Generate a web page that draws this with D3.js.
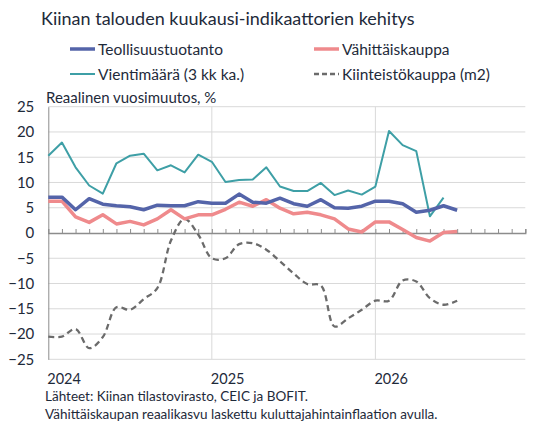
<!DOCTYPE html>
<html>
<head>
<meta charset="utf-8">
<script src="https://cdn.jsdelivr.net/npm/d3@7"></script>
<style>
	body { margin: 0; background: #fff; }
	text { font-family: Lato, "Open Sans", sans-serif; fill: #1e2a3a; }
</style>
</head>
<body>
<div class="view-container"></div>
<script>
'use strict';

// monthly data, Jan 2024 onwards
var years = ['2024', '2025', '2026'];
var industrial = [7.1, 7.1, 4.6, 6.8, 5.7, 5.4, 5.2, 4.6, 5.5, 5.4, 5.4, 6.2,
	5.9, 5.9, 7.7, 6.1, 5.9, 6.9, 5.8, 5.3, 6.6, 5.0, 4.9, 5.3,
	6.3, 6.3, 5.8, 4.1, 4.5, 5.4, 4.5];
var retail = [6.3, 6.3, 3.2, 2.1, 3.6, 1.8, 2.3, 1.6, 2.8, 4.6, 2.8, 3.6,
	3.6, 4.7, 6.1, 5.3, 6.6, 4.9, 3.8, 4.1, 3.6, 2.8, 0.8, 0.2,
	2.2, 2.2, 0.7, -0.9, -1.6, 0.1, 0.3];
var exports3m = [15.3, 17.9, 13.0, 9.4, 7.8, 13.8, 15.3, 15.7, 12.4, 13.4, 12.0, 15.5,
	14.1, 10.1, 10.5, 10.6, 13.0, 9.2, 8.3, 8.3, 9.9, 7.5, 8.4, 7.6,
	9.2, 20.2, 17.4, 16.2, 3.3, 7.0];
var realEstate = [-20.5, -20.5, -19.0, -22.8, -20.6, -14.7, -15.2, -13.1, -10.9, -1.5, 2.8, -0.3,
	-5.0, -5.0, -2.2, -2.0, -3.3, -5.6, -8.0, -10.1, -10.4, -18.5, -16.9, -15.2,
	-13.4, -13.4, -9.4, -9.6, -12.9, -14.2, -13.4];
var yTicks = [-25, -20, -15, -10, -5, 0, 5, 10, 15, 20, 25];

var WIDTH = 536, HEIGHT = 427;
var BLUE = '#5464a9', PINK = '#ef8a8c', TEAL = '#3e9fa6', GRAY = '#6b6b6b';
var GRID = '#d9d9d9';

var svg = d3.select('.view-container').append('svg')
	.attr('width', WIDTH)
	.attr('height', HEIGHT);

var x = d3.scaleLinear().domain([0, 35]).range([48.3, 525.3]);
var y = d3.scaleLinear().domain([-25, 25]).range([359.3, 106.7]);

// horizontal grid
svg.append('g').selectAll('line')
	.data(yTicks.filter(function(d) { return d !== 0; }))
	.enter().append('line')
	.attr('x1', x(0)).attr('x2', x(35))
	.attr('y1', function(d) { return y(d); })
	.attr('y2', function(d) { return y(d); })
	.attr('stroke', GRID).attr('stroke-width', 1);

// year separators
svg.append('g').selectAll('line')
	.data([12, 24])
	.enter().append('line')
	.attr('x1', function(d) { return x(d); })
	.attr('x2', function(d) { return x(d); })
	.attr('y1', y(25)).attr('y2', y(-25))
	.attr('stroke', GRID).attr('stroke-width', 1);

// y axis
var yAxis = svg.append('g')
	.attr('transform', 'translate(' + x(0) + ',0)')
	.call(d3.axisLeft(y).tickValues(yTicks).tickSize(0).tickPadding(14));
yAxis.select('.domain').attr('stroke', '#8c8c8c');
yAxis.selectAll('text')
	.style('font-family', 'Lato, sans-serif')
	.style('font-size', '15px')
	.attr('fill', '#222');

// x axis on zero line, ticks pointing up
var xAxis = svg.append('g')
	.attr('transform', 'translate(0,' + y(0) + ')')
	.call(d3.axisTop(x).tickValues(d3.range(1, 36)).tickSize(4).tickFormat(''));
xAxis.select('.domain').attr('stroke', '#8c8c8c').attr('stroke-width', 1.3);
xAxis.selectAll('.tick line').attr('stroke', '#8c8c8c');

// year labels
svg.append('g').selectAll('text')
	.data(years)
	.enter().append('text')
	.attr('x', function(d, i) { return x(i * 12) - 1; })
	.attr('y', 384)
	.style('font-size', '14.5px')
	.text(function(d) { return d; });

var line = d3.line()
	.x(function(d, i) { return x(i); })
	.y(function(d) { return y(d); });

svg.append('path').datum(realEstate)
	.attr('d', line.curve(d3.curveCatmullRom.alpha(0.5)))
	.attr('fill', 'none').attr('stroke', GRAY)
	.attr('stroke-width', 2.3).attr('stroke-dasharray', '6,4');

line.curve(d3.curveLinear);

svg.append('path').datum(exports3m)
	.attr('d', line)
	.attr('fill', 'none').attr('stroke', TEAL)
	.attr('stroke-width', 2).attr('stroke-linejoin', 'round');

svg.append('path').datum(retail)
	.attr('d', line)
	.attr('fill', 'none').attr('stroke', PINK)
	.attr('stroke-width', 3.5).attr('stroke-linejoin', 'round');

svg.append('path').datum(industrial)
	.attr('d', line)
	.attr('fill', 'none').attr('stroke', BLUE)
	.attr('stroke-width', 3.5).attr('stroke-linejoin', 'round');

// title and labels
svg.append('text')
	.attr('x', 41).attr('y', 25)
	.style('font-size', '18px')
	.text('Kiinan talouden kuukausi-indikaattorien kehitys');

svg.append('text')
	.attr('x', 46).attr('y', 103)
	.style('font-size', '15px')
	.text('Reaalinen vuosimuutos, %');

var legendItems = [
	{ name: 'Teollisuustuotanto', color: BLUE, width: 3.5, dash: null, lx: 70, ly: 49 },
	{ name: 'Vähittäiskauppa', color: PINK, width: 3.5, dash: null, lx: 314, ly: 49 },
	{ name: 'Vientimäärä (3 kk ka.)', color: TEAL, width: 2, dash: null, lx: 70, ly: 74 },
	{ name: 'Kiinteistökauppa (m2)', color: GRAY, width: 2.3, dash: '5,3', lx: 314, ly: 74 }
];
var legend = svg.append('g').selectAll('g')
	.data(legendItems)
	.enter().append('g')
	.attr('transform', function(d) { return 'translate(' + d.lx + ',' + d.ly + ')'; });
legend.append('line')
	.attr('x1', 0).attr('x2', 25)
	.attr('stroke', function(d) { return d.color; })
	.attr('stroke-width', function(d) { return d.width; })
	.attr('stroke-dasharray', function(d) { return d.dash; });
legend.append('text')
	.attr('x', 28).attr('dy', 5.5)
	.style('font-size', '15.5px')
	.text(function(d) { return d.name; });

// sources
svg.append('text')
	.attr('x', 45).attr('y', 401)
	.style('font-size', '13.5px')
	.text('Lähteet: Kiinan tilastovirasto, CEIC ja BOFIT.');
svg.append('text')
	.attr('x', 45).attr('y', 419)
	.style('font-size', '13.5px')
	.text('Vähittäiskaupan reaalikasvu laskettu kuluttajahintainflaation avulla.');
</script>
</body>
</html>
